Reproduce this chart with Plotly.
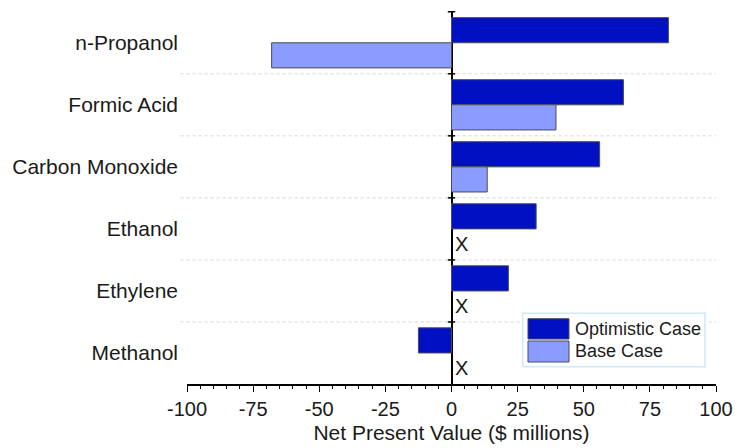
import plotly.graph_objects as go

# Net present value by product, in $ millions
products = ["n-Propanol", "Formic Acid", "Carbon Monoxide", "Ethanol", "Ethylene", "Methanol"]
optimistic = [82, 65, 56, 32, 21.5, -12.5]
base = [-68, 39.5, 13.5, None, None, None]   # None = not viable (marked with X)

series_names = ["Optimistic Case", "Base Case"]
colors = ["#0010c2", "#8a9cff"]
outline = "#4a4a5a"
font_family = "Liberation Sans, Arial, sans-serif"

x_ticks = [-100, -75, -50, -25, 0, 25, 50, 75, 100]
x_tick_text = [str(v) for v in x_ticks]   # plain hyphen-minus labels

fig = go.Figure()
for name, vals, col in zip(series_names, [optimistic, base], colors):
    fig.add_trace(go.Bar(
        y=products, x=vals, name=name, orientation="h",
        marker=dict(color=col, line=dict(color=outline, width=1)),
        showlegend=False,
    ))

shapes = []
annotations = []
n = len(products)

# dotted separators between product rows
for i in range(n - 1):
    shapes.append(dict(type="line", xref="paper", x0=-0.012, x1=1.0, yref="y",
                       y0=i + 0.5, y1=i + 0.5, layer="below",
                       line=dict(color="#d6d6d6", width=1, dash="dot")))
# short ticks on the zero line at row boundaries
for i in range(n):
    shapes.append(dict(type="line", xref="x", x0=-1.4, x1=1.4, yref="y",
                       y0=i - 0.5, y1=i - 0.5, line=dict(color="black", width=1.5)))

# "X" where the base case has no value
for p, v in zip(products, base):
    if v is None:
        idx = products.index(p)
        annotations.append(dict(x=0, y=idx + 0.24, xref="x", yref="y", text="X",
                                showarrow=False, xanchor="left", yanchor="middle",
                                xshift=1, font=dict(size=20, color="#1a1a1a", family=font_family)))

# legend box
shapes.append(dict(type="rect", xref="paper", yref="paper", x0=0.6346, x1=0.9792,
                   y0=0.0464, y1=0.1895, line=dict(color="#cfe9f7", width=1.5),
                   fillcolor="white"))
sw = [(0.1751, 0.1206), (0.1153, 0.0590)]
for (ytop, ybot), col, name in zip(sw, colors, series_names):
    shapes.append(dict(type="rect", xref="paper", yref="paper", x0=0.6446, x1=0.7221,
                       y0=ybot, y1=ytop, fillcolor=col, line=dict(color=outline, width=1)))
    annotations.append(dict(x=0.7297, y=(ytop + ybot) / 2, xref="paper", yref="paper",
                            text=name, showarrow=False, xanchor="left", yanchor="middle",
                            font=dict(size=18, color="#1a1a1a", family=font_family)))

fig.update_layout(
    width=737, height=448,
    margin=dict(l=187, r=21, t=11, b=64),
    paper_bgcolor="white", plot_bgcolor="white",
    barmode="group", bargap=0.19, bargroupgap=0,
    font=dict(family=font_family, size=20, color="#1a1a1a"),
    shapes=shapes, annotations=annotations,
    xaxis=dict(
        range=[-100, 100], tickvals=x_ticks, ticktext=x_tick_text,
        showgrid=False, zeroline=True, zerolinecolor="black", zerolinewidth=1.5,
        showline=True, linecolor="black", linewidth=1.5,
        ticks="outside", ticklen=6, tickwidth=1.2, tickcolor="black",
        minor=dict(dtick=5, tick0=0, ticks="outside", ticklen=3, tickwidth=1,
                   tickcolor="black", showgrid=False),
        tickfont=dict(size=20), automargin=False,
        title=dict(text="Net Present Value ($ millions)", font=dict(size=21), standoff=7),
    ),
    yaxis=dict(
        categoryorder="array", categoryarray=products, autorange="reversed",
        showgrid=False, zeroline=False, showline=False, ticks="",
        ticklabelstandoff=8, tickfont=dict(size=21), automargin=False,
    ),
)

fig.write_html("out.html")
